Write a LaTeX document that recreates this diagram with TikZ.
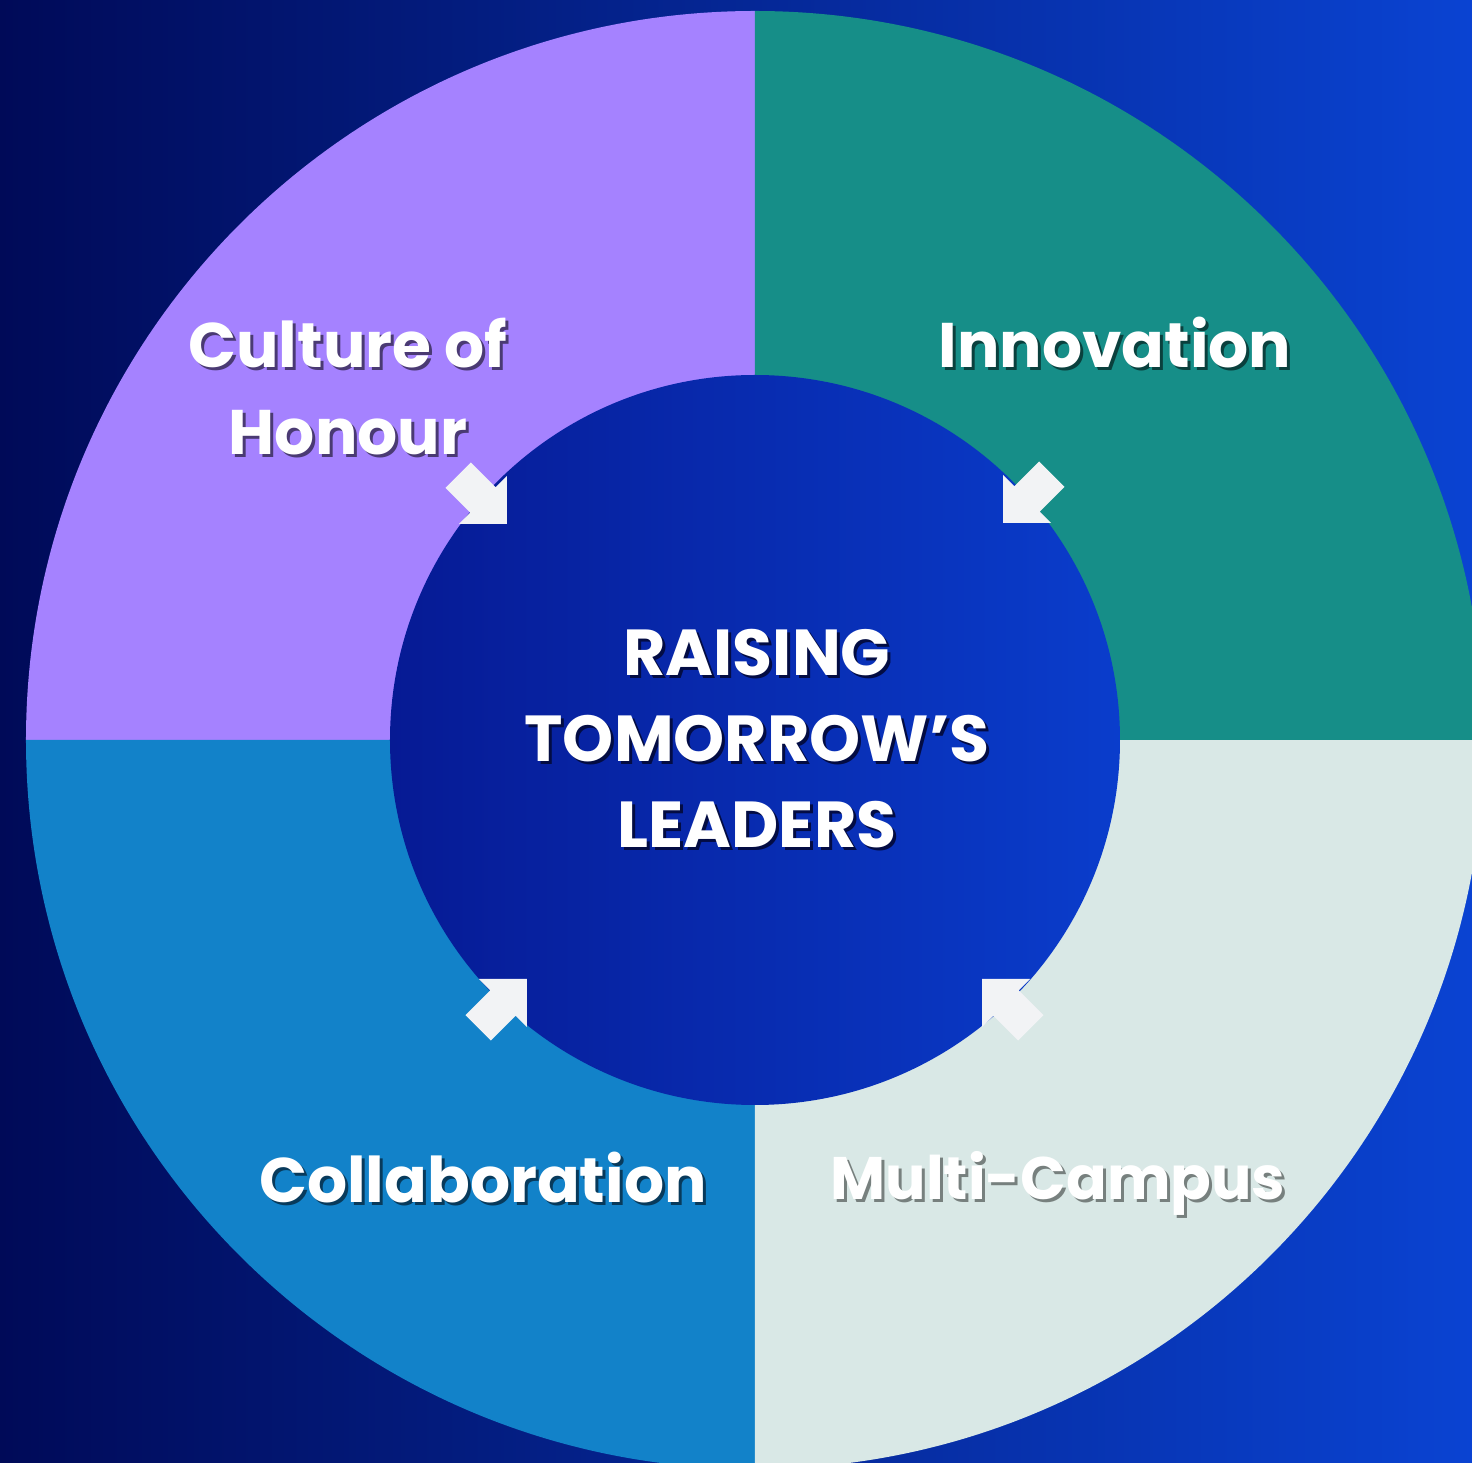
\documentclass[tikz,border=0pt]{standalone}
\usepackage{fontspec}
\setmainfont{Poppins}
\usepackage{xcolor}
\usepackage{tikz}

\definecolor{bgleft}{HTML}{000A58}
\definecolor{bgright}{HTML}{0A43D2}
\definecolor{honour}{HTML}{A582FF}
\definecolor{innov}{HTML}{168E88}
\definecolor{campus}{HTML}{D9E8E6}
\definecolor{collab}{HTML}{1282C9}
\definecolor{hubleft}{HTML}{061A94}
\definecolor{hubright}{HTML}{0A3DCC}
\definecolor{arrowwhite}{HTML}{F2F3F5}

% white text with a drop shadow behind it
\newcommand{\shtext}[2]{\leavevmode\rlap{\kern3pt\raisebox{-3pt}{\textcolor{#1}{#2}}}#2}

\begin{document}
\begin{tikzpicture}[x=1pt,y=1pt,
  ringtext/.style={text=white,font=\fontsize{63}{87}\selectfont\bfseries,align=center},
  hubtext/.style={text=white,font=\fontsize{65}{86}\selectfont\bfseries,align=center}]

% Background
\shade[left color=bgleft,right color=bgright] (-755,-723) rectangle (717,740);
\useasboundingbox (-755,-723) rectangle (717,740);

% Draw quadrants
\fill[honour] (0,0) -- (0,729) arc[start angle=90,end angle=180,radius=729pt] -- cycle;
\fill[collab] (0,0) -- (-729,0) arc[start angle=180,end angle=270,radius=729pt] -- cycle;
\fill[campus] (0,0) -- (0,-729) arc[start angle=270,end angle=360,radius=729pt] -- cycle;
\fill[innov] (0,0) -- (729,0) arc[start angle=0,end angle=90,radius=729pt] -- cycle;

% Draw hub
\shade[left color=hubleft,right color=hubright] (0,0) circle (365pt);

% Draw arrows
\foreach \x/\y/\a in {-248/216/-45, 248/217/-135, -228/-239/45, 227/-239/135}
  \fill[arrowwhite,shift={(\x,\y)},rotate=\a]
    (0,0) -- (-34,34) -- (-34,18) -- (-69,18) -- (-69,-18) -- (-34,-18) -- (-34,-34) -- cycle;

% Labels
\node[ringtext] (honourtext) at (-407,352)
  {\shtext{honour!45!black}{Culture of}\\\shtext{honour!45!black}{Honour}};
\node[ringtext] (innovtext) at (360,396) {\shtext{innov!45!black}{Innovation}};
\node[ringtext] (collabtext) at (-272,-439) {\shtext{collab!45!black}{Collaboration}};
\node[ringtext,font=\fontsize{60}{87}\selectfont\bfseries] (campustext) at (303,-445)
  {\shtext{campus!55!black}{Multi-Campus}};
\node[hubtext] (leaders) at (2,0)
  {\shtext{hubleft!45!black}{RAISING}\\\shtext{hubleft!45!black}{TOMORROW’S}\\\shtext{hubleft!45!black}{LEADERS}};

\end{tikzpicture}
\end{document}
